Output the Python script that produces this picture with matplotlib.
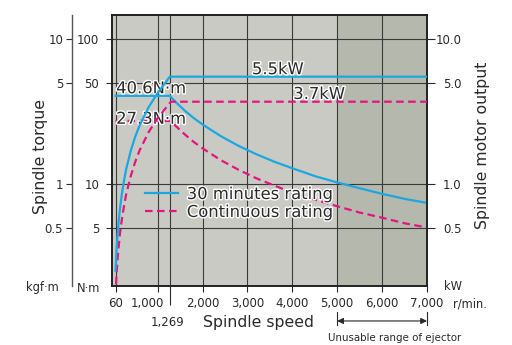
import matplotlib
matplotlib.use('Agg')
import matplotlib.pyplot as plt
import matplotlib.patheffects as pe
from matplotlib.ticker import NullLocator
from matplotlib.transforms import blended_transform_factory


# torque, N-m (30 minutes / continuous)
speed_t30 = [60, 1269, 1400, 1600, 1800, 2000, 2400, 2800, 3200, 3600, 4000, 4500, 5000, 5500, 6000, 6500, 7000]
torque_30 = [40.6, 40.6, 36.8, 32.2, 28.6, 25.8, 21.5, 18.4, 16.1, 14.3, 12.9, 11.4, 10.3, 9.4, 8.6, 7.95, 7.45]
speed_tc = [60, 1294, 1400, 1600, 1800, 2000, 2400, 2800, 3200, 3600, 4000, 4500, 5000, 5500, 6000, 6500, 7000]
torque_c = [27.3, 27.3, 25.2, 22.1, 19.6, 17.7, 14.7, 12.6, 11.0, 9.8, 8.8, 7.85, 7.07, 6.4, 5.9, 5.4, 5.05]

# motor output, kW
speed_p30 = [60, 80, 100, 130, 160, 200, 250, 300, 400, 500, 600, 800, 1000, 1269, 7000]
power_30 = [0.255, 0.34, 0.425, 0.553, 0.68, 0.85, 1.06, 1.28, 1.70, 2.13, 2.55, 3.40, 4.25, 5.5, 5.5]
speed_pc = [60, 80, 100, 130, 160, 200, 250, 300, 400, 500, 600, 800, 1000, 1294, 7000]
power_c = [0.17, 0.23, 0.29, 0.37, 0.46, 0.57, 0.71, 0.86, 1.14, 1.43, 1.72, 2.29, 2.86, 3.7, 3.7]

x_ticks = [60, 1000, 2000, 3000, 4000, 5000, 6000, 7000]
x_labels = ['60', '1,000', '2,000', '3,000', '4,000', '5,000', '6,000', '7,000']
nm_ticks = [5, 10, 50, 100]
kgf_ticks = [0.5, 1, 5, 10]
kw_ticks = [0.5, 1, 5, 10]
kw_labels = ['0.5', '1.0', '5.0', '10.0']

blue = '#1BA8E2'
pink = '#E5157F'
light = '#CACAC4'
dark = '#B4B8AD'
gridc = '#3a3a3a'
txt = '#2a2a2a'

W, H = 512, 345
fig = plt.figure(figsize=(W / 100, H / 100), dpi=100)


def fx(x):
    return x / W


def fy(y):
    return 1 - y / H


halo = [pe.withStroke(linewidth=2.0, foreground='white')]

ax = fig.add_axes([fx(112), fy(286), (427 - 112) / W, (286 - 15) / H])
ax.set_facecolor(light)
ax.axvspan(5000, 7000, color=dark, lw=0, zorder=0)
ax.set_xlim(-18, 7000)
ax.set_yscale('log')
ax.set_ylim(2.0, 146)

for v in x_ticks + [1269]:
    ax.axvline(v, color=gridc, lw=0.8, zorder=1)
for v in nm_ticks:
    ax.axhline(v, color=gridc, lw=0.8, zorder=1)

l1, = ax.plot(speed_t30, torque_30, color=blue, lw=1.6, zorder=4, label='30 minutes rating')
l2, = ax.plot(speed_tc, torque_c, color=pink, lw=1.6, ls=(0, (3.4, 2.0)), zorder=3,
              label='Continuous rating')

# N-m axis
ax.set_yticks(nm_ticks, labels=[str(v) for v in nm_ticks])
ax.yaxis.set_minor_locator(NullLocator())
ax.tick_params(axis='y', direction='out', length=4.3, width=0.8, pad=5,
               labelsize=8.5, colors=txt)

# x axis
ax.set_xticks(x_ticks, labels=[''] * len(x_ticks))
ax.set_xticks([1269], minor=True)
ax.tick_params(axis='x', which='major', direction='out', length=4.3, width=0.8, colors=txt)
ax.tick_params(axis='x', which='minor', direction='out', length=14, width=0.8, colors=txt)

bt = blended_transform_factory(ax.transData, ax.transAxes)
for v, s in zip(x_ticks, x_labels):
    dx = -220 if v == 1000 else 0
    ax.text(v + dx, -0.066, s, transform=bt, ha='center', va='center',
            fontsize=8.5, color=txt)
ax.text(1210, -0.133, '1,269', transform=bt, ha='center', va='center', fontsize=8.5, color=txt)

# kW axis
ax2 = ax.twinx()
ax2.set_yscale('log')
ax2.set_ylim(0.2, 14.6)
ax2.plot(speed_pc, power_c, color=pink, lw=1.6, ls=(0, (3.4, 2.0)), zorder=3)
ax2.plot(speed_p30, power_30, color=blue, lw=1.6, zorder=4)
ax2.set_yticks(kw_ticks, labels=kw_labels)
ax2.yaxis.set_minor_locator(NullLocator())
ax2.tick_params(axis='y', direction='out', length=6, width=0.8, pad=19,
                labelsize=8.5, colors=txt)
for t in ax2.get_yticklabels():
    t.set_horizontalalignment('right')

# kgf-m axis
sec = ax.secondary_yaxis(-0.127, functions=(lambda v: v / 10, lambda v: v * 10))
sec.set_yticks(kgf_ticks, labels=['0.5', '1', '5', '10'])
sec.yaxis.set_minor_locator(NullLocator())
sec.tick_params(axis='y', direction='out', length=4.3, width=0.8, pad=2,
                labelsize=8.5, colors=txt)
sec.spines['left'].set_color('#555555')
sec.spines['left'].set_linewidth(1.0)

for a in (ax, ax2):
    for sp in a.spines.values():
        sp.set_color('#222222')
        sp.set_linewidth(1.2)

# texts inside the chart
ax.text(75, 42.3, '40.6N·m', fontsize=11.8, color=txt, path_effects=halo, zorder=6)
ax.text(75, 26.1, '27.3N·m', fontsize=11.8, color=txt, path_effects=halo, zorder=6)
ax2.text(3100, 5.5 * 1.04, '5.5kW', fontsize=11.8, color=txt, path_effects=halo, zorder=6)
ax2.text(4020, 3.7 * 1.045, '3.7kW', fontsize=11.8, color=txt, path_effects=halo, zorder=6)

leg = ax2.legend(handles=[l1, l2], loc='upper left', frameon=False,
                 bbox_to_anchor=(fx(145), fy(187)), bbox_transform=fig.transFigure,
                 fontsize=11.8, handlelength=2.0, handletextpad=0.55,
                 labelspacing=0.18, borderpad=0, borderaxespad=0)
for t in leg.get_texts():
    t.set_color(txt)
    t.set_path_effects(halo)

# axis titles and units
fig.text(fx(40), fy(156), 'Spindle torque', rotation=90, ha='center', va='center',
         fontsize=11.3, color=txt)
fig.text(fx(483), fy(145), 'Spindle motor output', rotation=90, ha='center', va='center',
         fontsize=11.3, color=txt)
fig.text(fx(258), fy(323), 'Spindle speed', ha='center', va='center', fontsize=11.3, color=txt)
fig.text(fx(42), fy(288), 'kgf·m', ha='center', va='center', fontsize=8.3, color=txt)
fig.text(fx(89), fy(288), 'N·m', ha='center', va='center', fontsize=8.3, color=txt)
fig.text(fx(453), fy(286), 'kW', ha='center', va='center', fontsize=8.3, color=txt)
fig.text(fx(470), fy(304), 'r/min.', ha='center', va='center', fontsize=8.3, color=txt)

# unusable range bracket
for v in (5000, 7000):
    ax.plot([v, v], [-0.096, -0.144], transform=bt, color=txt, lw=0.8, clip_on=False)
ax.annotate('', xy=(7000, -0.129), xytext=(5000, -0.129), xycoords=bt, textcoords=bt,
            arrowprops=dict(arrowstyle='<|-|>', color=txt, lw=0.8, mutation_scale=9,
                            shrinkA=0, shrinkB=0))
fig.text(fx(395), fy(338), 'Unusable range of ejector', ha='center', va='center',
         fontsize=7.4, color=txt)

fig.savefig('out.png', dpi=100)
